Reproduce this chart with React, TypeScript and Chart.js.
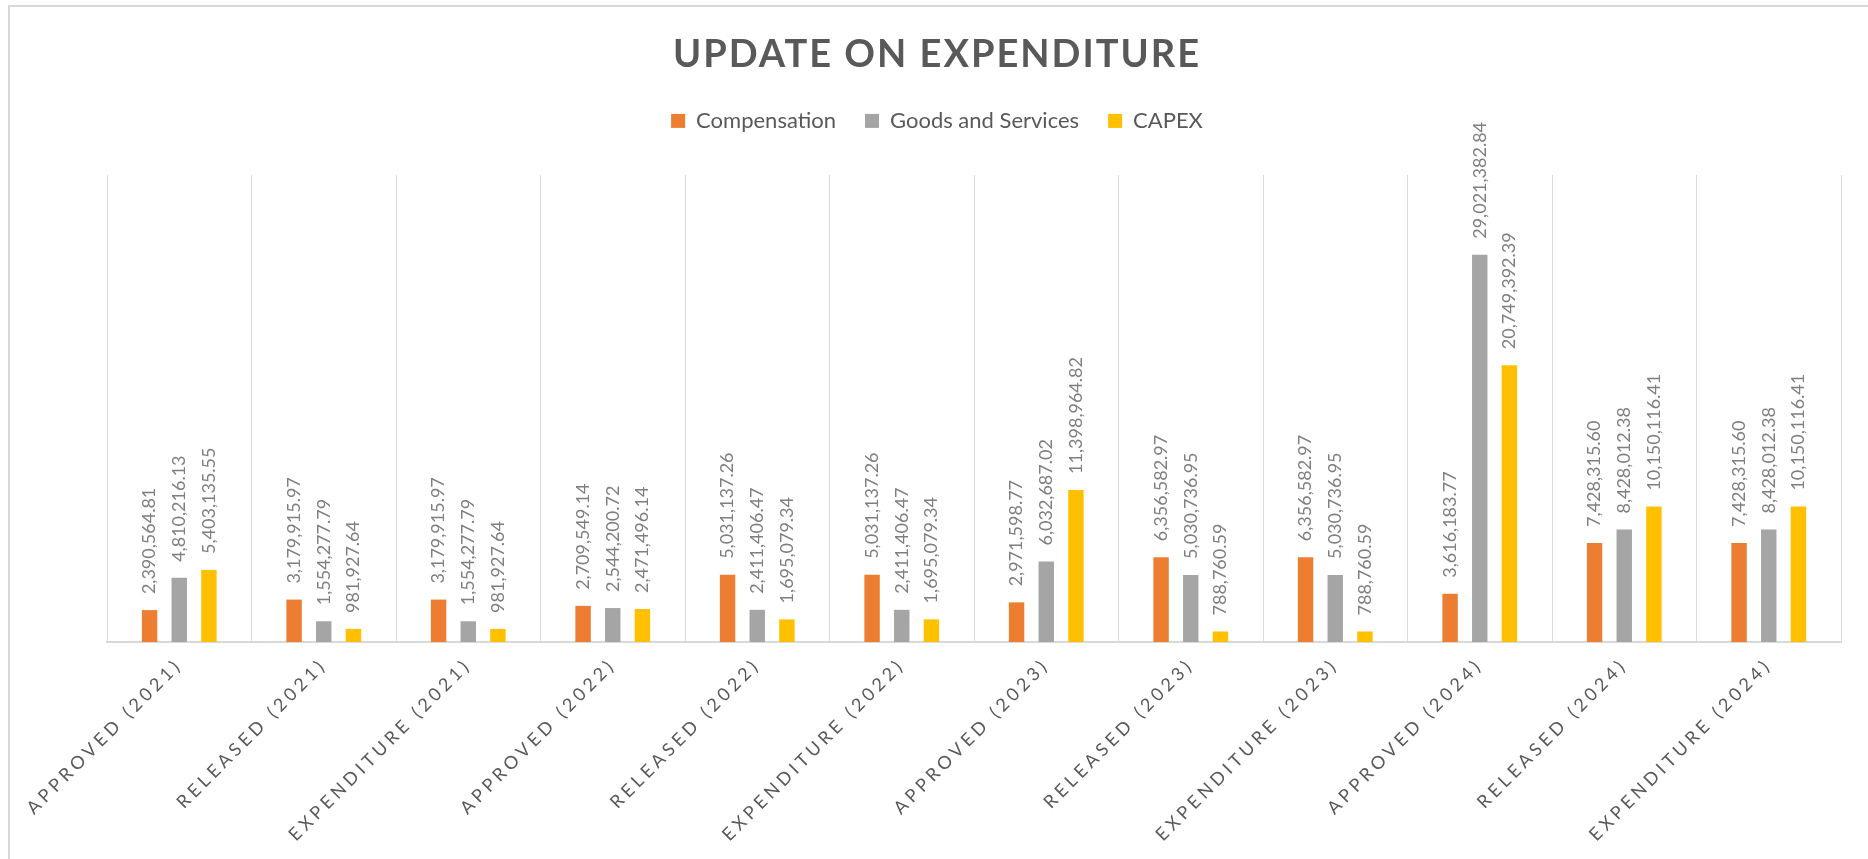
import React, { useEffect, useRef } from 'react';
import { Chart, registerables } from 'chart.js';

Chart.register(...registerables);

const categories = [
  'APPROVED (2021)',
  'RELEASED (2021)',
  'EXPENDITURE (2021)',
  'APPROVED (2022)',
  'RELEASED (2022)',
  'EXPENDITURE (2022)',
  'APPROVED (2023)',
  'RELEASED (2023)',
  'EXPENDITURE (2023)',
  'APPROVED (2024)',
  'RELEASED (2024)',
  'EXPENDITURE (2024)',
];

const compensation = [
  2390564.81, 3179915.97, 3179915.97, 2709549.14, 5031137.26, 5031137.26,
  2971598.77, 6356582.97, 6356582.97, 3616183.77, 7428315.6, 7428315.6,
];

const goodsAndServices = [
  4810216.13, 1554277.79, 1554277.79, 2544200.72, 2411406.47, 2411406.47,
  6032687.02, 5030736.95, 5030736.95, 29021382.84, 8428012.38, 8428012.38,
];

const capex = [
  5403135.55, 981927.64, 981927.64, 2471496.14, 1695079.34, 1695079.34,
  11398964.82, 788760.59, 788760.59, 20749392.39, 10150116.41, 10150116.41,
];

const seriesNames = ['Compensation', 'Goods and Services', 'CAPEX'];
const seriesColors = ['#ED7D31', '#A5A5A5', '#FFC000'];
const titleText = 'UPDATE ON EXPENDITURE';
const yMin = 0;
const yMax = 35000000;

const FONT = 'Lato';

const fmt = (v: number) =>
  v.toLocaleString('en-US', { minimumFractionDigits: 2, maximumFractionDigits: 2 });

const framePlugin = {
  id: 'frame',
  beforeDraw(chart: any) {
    const ctx = chart.ctx;
    ctx.save();
    ctx.fillStyle = '#d9d9d9';
    ctx.fillRect(8, 5, 2, chart.height);
    ctx.fillRect(8, 5, chart.width, 2);
    ctx.restore();
  },
};

const dataLabelPlugin = {
  id: 'dataLabels',
  afterDatasetsDraw(chart: any) {
    const ctx = chart.ctx;
    ctx.save();
    ctx.font = `18px ${FONT}`;
    ctx.fillStyle = '#7f7f7f';
    ctx.textAlign = 'left';
    ctx.textBaseline = 'middle';
    chart.data.datasets.forEach((ds: any, di: number) => {
      const meta = chart.getDatasetMeta(di);
      meta.data.forEach((bar: any, i: number) => {
        const v = ds.data[i];
        ctx.save();
        ctx.translate(bar.x, bar.y - 16);
        ctx.rotate(-Math.PI / 2);
        ctx.fillText(fmt(v), 0, 0);
        ctx.restore();
      });
    });
    ctx.restore();
  },
};

const spacingPlugin = {
  id: 'letterSpacing',
  afterLayout(chart: any) {
    const tb = chart.titleBlock;
    if (tb && !tb.__ls) {
      const orig = tb.draw.bind(tb);
      tb.draw = (...a: any[]) => {
        const c = chart.ctx;
        c.save();
        c.letterSpacing = '2px';
        orig(...a);
        c.restore();
      };
      tb.__ls = true;
    }
    const xs = chart.scales.x;
    if (xs && !xs.__ls) {
      const orig = xs.drawLabels.bind(xs);
      xs.drawLabels = (...a: any[]) => {
        const c = chart.ctx;
        c.save();
        c.letterSpacing = '4px';
        orig(...a);
        c.restore();
      };
      xs.__ls = true;
    }
  },
};

export default function App() {
  const canvasRef = useRef<HTMLCanvasElement | null>(null);

  useEffect(() => {
    if (!canvasRef.current) return;
    const chart = new Chart(canvasRef.current, {
      type: 'bar',
      data: {
        labels: categories,
        datasets: [compensation, goodsAndServices, capex].map((d, i) => ({
          label: seriesNames[i],
          data: d,
          backgroundColor: seriesColors[i],
          borderWidth: 0,
          barPercentage: 0.52,
          categoryPercentage: 0.616,
        })),
      },
      options: {
        responsive: true,
        maintainAspectRatio: false,
        animation: false,
        layout: { padding: { top: 0, left: 33, right: 27, bottom: 0 } },
        plugins: {
          title: {
            display: true,
            text: titleText,
            color: '#595959',
            font: { family: FONT, size: 38, weight: 'bold', lineHeight: 1.2 },
            padding: { top: 31.8, bottom: 3.5 },
          },
          subtitle: {
            display: true,
            text: '',
            position: 'top',
            weight: 100,
            font: { family: FONT, size: 10, lineHeight: 1 },
            padding: { top: 23.1, bottom: 0 },
          },
          legend: {
            position: 'top',
            labels: {
              boxWidth: 14,
              boxHeight: 14,
              padding: 29,
              color: '#595959',
              font: { family: FONT, size: 22 },
            },
          },
          tooltip: { enabled: false },
        },
        scales: {
          x: {
            grid: { display: true, offset: true, color: '#d9d9d9', lineWidth: 1, drawTicks: false },
            border: { display: true, color: '#d9d9d9', width: 2 },
            ticks: {
              autoSkip: false,
              minRotation: 45,
              maxRotation: 45,
              color: '#595959',
              font: { family: FONT, size: 18 },
              padding: 12,
            },
            afterFit: (s: any) => {
              s.height = 217;
              s.paddingLeft = 0;
              s.paddingRight = 0;
            },
          },
          y: {
            display: true,
            min: yMin,
            max: yMax,
            grid: { display: false, drawTicks: false },
            border: { display: false },
            ticks: { display: false },
            afterFit: (s: any) => {
              s.width = 74;
            },
          },
        },
      },
      plugins: [framePlugin, dataLabelPlugin, spacingPlugin],
    });
    return () => chart.destroy();
  }, []);

  return (
    <div style={{ position: 'absolute', left: 0, top: 0, width: 1868, height: 859 }}>
      <canvas ref={canvasRef} />
    </div>
  );
}
